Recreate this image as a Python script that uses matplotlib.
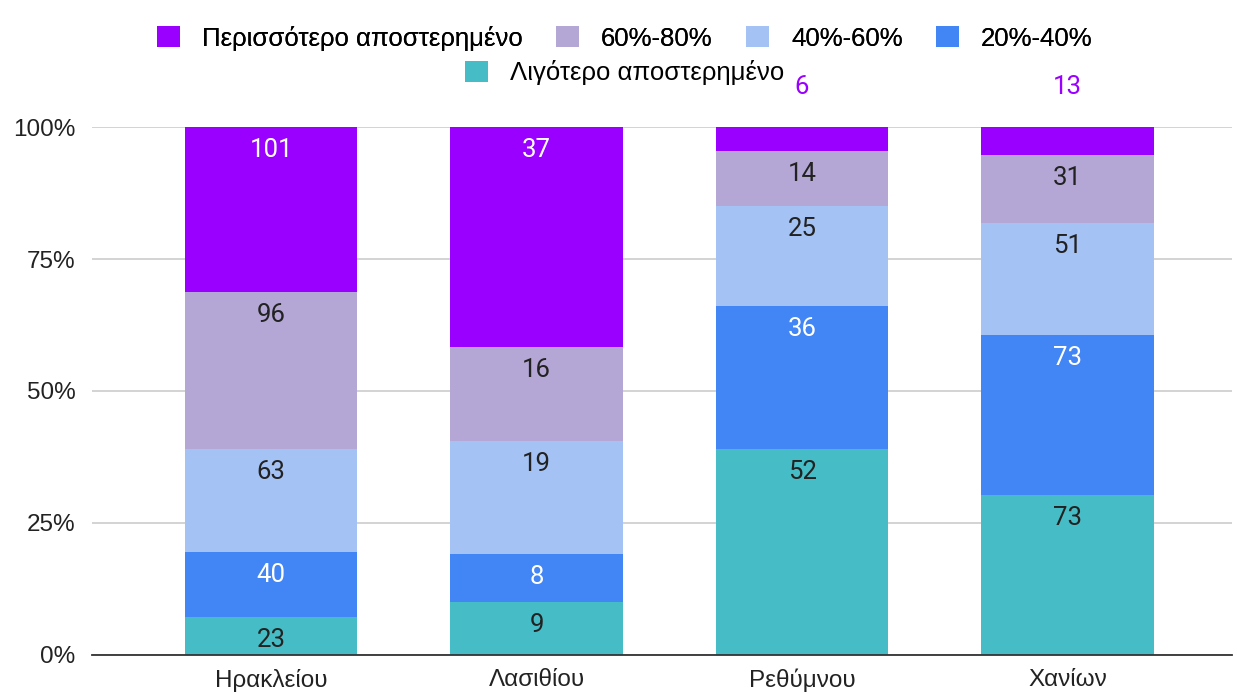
import matplotlib
matplotlib.use("Agg")
import matplotlib.pyplot as plt
from matplotlib.patches import Patch
import numpy as np

perifereies = ["Ηρακλείου", "Λασιθίου", "Ρεθύμνου", "Χανίων"]
seires = ["Λιγότερο αποστερημένο", "20%-40%", "40%-60%", "60%-80%", "Περισσότερο αποστερημένο"]
ligotero = [23, 9, 52, 73]
p20_40 = [40, 8, 36, 73]
p40_60 = [63, 19, 25, 51]
p60_80 = [96, 16, 14, 31]
perissotero = [101, 37, 6, 13]

xromata = ["#46bdc6", "#4285f4", "#a4c2f4", "#b4a7d6", "#9900ff"]
xroma_keimenou = ["#222222", "white", "#222222", "#222222", "white"]

dedomena = np.array([ligotero, p20_40, p40_60, p60_80, perissotero], dtype=float)
synola = dedomena.sum(axis=0)
pososta = dedomena / synola

fig = plt.figure(figsize=(12.37, 6.94), dpi=100)
ax = fig.add_axes([0.0744, 0.0562, 0.9216, 0.7608])

x = np.arange(len(perifereies))
katw = np.zeros(len(perifereies))
for i in range(len(seires)):
	ax.bar(x, pososta[i], bottom=katw, width=0.65, color=xromata[i], zorder=2)
	for j in range(len(perifereies)):
		korifi = katw[j] + pososta[i][j]
		if pososta[i][j] > 0.07:
			ax.annotate(str(int(dedomena[i][j])), (x[j], korifi), xytext=(0, -23),
				textcoords="offset pixels", ha="center", va="center", fontsize=18.5,
				color=xroma_keimenou[i], family="Roboto", zorder=3)
		else:
			ax.annotate(str(int(dedomena[i][j])), (x[j], korifi), xytext=(0, 40),
				textcoords="offset pixels", ha="center", va="center", fontsize=18.5,
				color=xromata[i], family="Roboto", annotation_clip=False)
	katw += pososta[i]

ax.set_xlim(-0.675, 3.62)
ax.set_ylim(0, 1)
ax.set_yticks([0, 0.25, 0.5, 0.75, 1.0])
ax.set_yticklabels(["0%", "25%", "50%", "75%", "100%"])
ax.set_xticks(x)
ax.set_xticklabels(perifereies)
ax.tick_params(axis="both", length=0, labelsize=17.5, colors="#222222")
ax.tick_params(axis="y", pad=12)
ax.tick_params(axis="x", pad=10)
for t in ax.get_xticklabels() + ax.get_yticklabels():
	t.set_family("Liberation Sans")
ax.grid(axis="y", color="#cccccc", linewidth=1.2, zorder=0)
for s in ["top", "right", "left"]:
	ax.spines[s].set_visible(False)
ax.spines["bottom"].set_color("#333333")
ax.spines["bottom"].set_linewidth(1.3)
ax.spines["bottom"].set_zorder(4)

# legend in two rows, centered
seira1 = [4, 3, 2, 1]
h1 = [Patch(facecolor=xromata[k], label=seires[k]) for k in seira1]
leg1 = fig.legend(handles=h1, ncol=4, loc="center", bbox_to_anchor=(0.505, 0.945),
	frameon=False, prop={"family": "Liberation Sans", "size": 18.5},
	handlelength=0.9, handleheight=0.9, columnspacing=1.3, handletextpad=0.85)
h2 = [Patch(facecolor=xromata[0], label=seires[0])]
leg2 = fig.legend(handles=h2, loc="center", bbox_to_anchor=(0.505, 0.895),
	frameon=False, prop={"family": "Liberation Sans", "size": 18.5},
	handlelength=0.9, handleheight=0.9, handletextpad=0.85)
fig.add_artist(leg1)

plt.savefig("out.png", dpi=100)
